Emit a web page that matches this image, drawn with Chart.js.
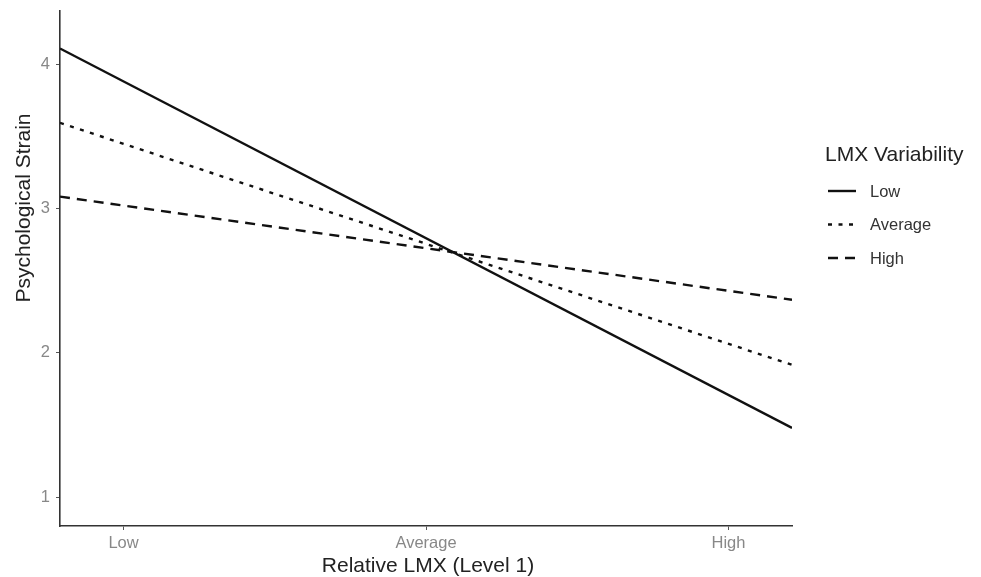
<!DOCTYPE html>
<html>
<head>
<meta charset="utf-8">
<script src="https://cdn.jsdelivr.net/npm/chart.js@4.4.0/dist/chart.umd.min.js"></script>
<style>
    html, body { margin: 0; padding: 0; background: #fff; }
    #wrap { width: 981px; height: 577px; position: relative; }
</style>
</head>
<body>
<div id="wrap"><canvas id="strainChart"></canvas></div>
<script>
// Data
// =======================
const xTickValues = [-1, 0, 1];
const xTickLabels = ['Low', 'Average', 'High'];
const xEnds = [-1.21, 1.21];              // lines run across the whole panel
const yTickValues = [1, 2, 3, 4];

const seriesNames = ['Low', 'Average', 'High'];
const lowValues = [4.11, 1.48];
const averageValues = [3.595, 1.917];
const highValues = [3.083, 2.368];
const seriesDash = [[], [4, 6.5], [10, 7]];

const FONT = "'Liberation Sans', Arial, sans-serif";

function toPoints(vals) {
    return vals.map((v, i) => ({ x: xEnds[i], y: v }));
}

// Axis titles + legend drawn by hand, like the ggplot guide
const guidePlugin = {
    id: 'guide',
    afterDraw(chart) {
        const ctx = chart.ctx;
        ctx.save();
        ctx.fillStyle = '#222';
        ctx.textAlign = 'center';
        ctx.textBaseline = 'middle';
        ctx.font = '21px ' + FONT;

        // x axis title
        ctx.fillText('Relative LMX (Level 1)', 428, 566);

        // y axis title (sits a bit above the panel centre in the original)
        ctx.translate(24, 208);
        ctx.rotate(-Math.PI / 2);
        ctx.fillText('Psychological Strain', 0, 0);
        ctx.setTransform(1, 0, 0, 1, 0, 0);

        // legend
        ctx.textAlign = 'left';
        ctx.fillText('LMX Variability', 825, 155);
        ctx.font = '16.5px ' + FONT;
        chart.data.datasets.forEach((ds, i) => {
            const y = 191 + i * 33.5;
            ctx.strokeStyle = ds.borderColor;
            ctx.lineWidth = ds.borderWidth;
            ctx.setLineDash(ds.borderDash);
            ctx.beginPath();
            ctx.moveTo(828, y);
            ctx.lineTo(856, y);
            ctx.stroke();
            ctx.setLineDash([]);
            ctx.fillStyle = '#333';
            ctx.fillText(ds.label, 870, y + 1);
        });
        ctx.restore();
    }
};

const datasets = [lowValues, averageValues, highValues].map((vals, i) => ({
    label: seriesNames[i],
    data: toPoints(vals),
    borderColor: '#111',
    borderWidth: 2.4,
    borderDash: seriesDash[i],
    pointRadius: 0,
    fill: false,
    tension: 0
}));

const ctx = document.getElementById('strainChart').getContext('2d');
new Chart(ctx, {
    type: 'line',
    data: { datasets },
    plugins: [guidePlugin],
    options: {
        responsive: true,
        maintainAspectRatio: false,
        animation: false,
        layout: { padding: { top: 11, right: 189, bottom: 0, left: 0 } },
        plugins: { legend: { display: false }, tooltip: { enabled: false } },
        scales: {
            x: {
                type: 'linear',
                min: xEnds[0],
                max: xEnds[1],
                afterBuildTicks: (s) => { s.ticks = xTickValues.map(v => ({ value: v })); },
                afterFit: (s) => { s.height = 51; s.paddingLeft = 0; s.paddingRight = 0; },
                ticks: {
                    color: '#888',
                    font: { family: FONT, size: 16.5 },
                    padding: 4,
                    callback: (v) => xTickLabels[xTickValues.indexOf(v)]
                },
                grid: { drawOnChartArea: false, tickLength: 4, color: '#555', lineWidth: 1 },
                border: { display: true, color: '#333', width: 1.6 },
                title: { display: false }
            },
            y: {
                min: 0.8,
                max: 4.37,
                afterBuildTicks: (s) => { s.ticks = yTickValues.map(v => ({ value: v })); },
                afterFit: (s) => { s.width = 60; s.paddingTop = 0; s.paddingBottom = 0; },
                ticks: {
                    color: '#888',
                    font: { family: FONT, size: 16.5 },
                    padding: 6
                },
                grid: { drawOnChartArea: false, tickLength: 4, color: '#555', lineWidth: 1 },
                border: { display: true, color: '#333', width: 1.6 },
                title: { display: false }
            }
        }
    }
});
</script>
</body>
</html>
